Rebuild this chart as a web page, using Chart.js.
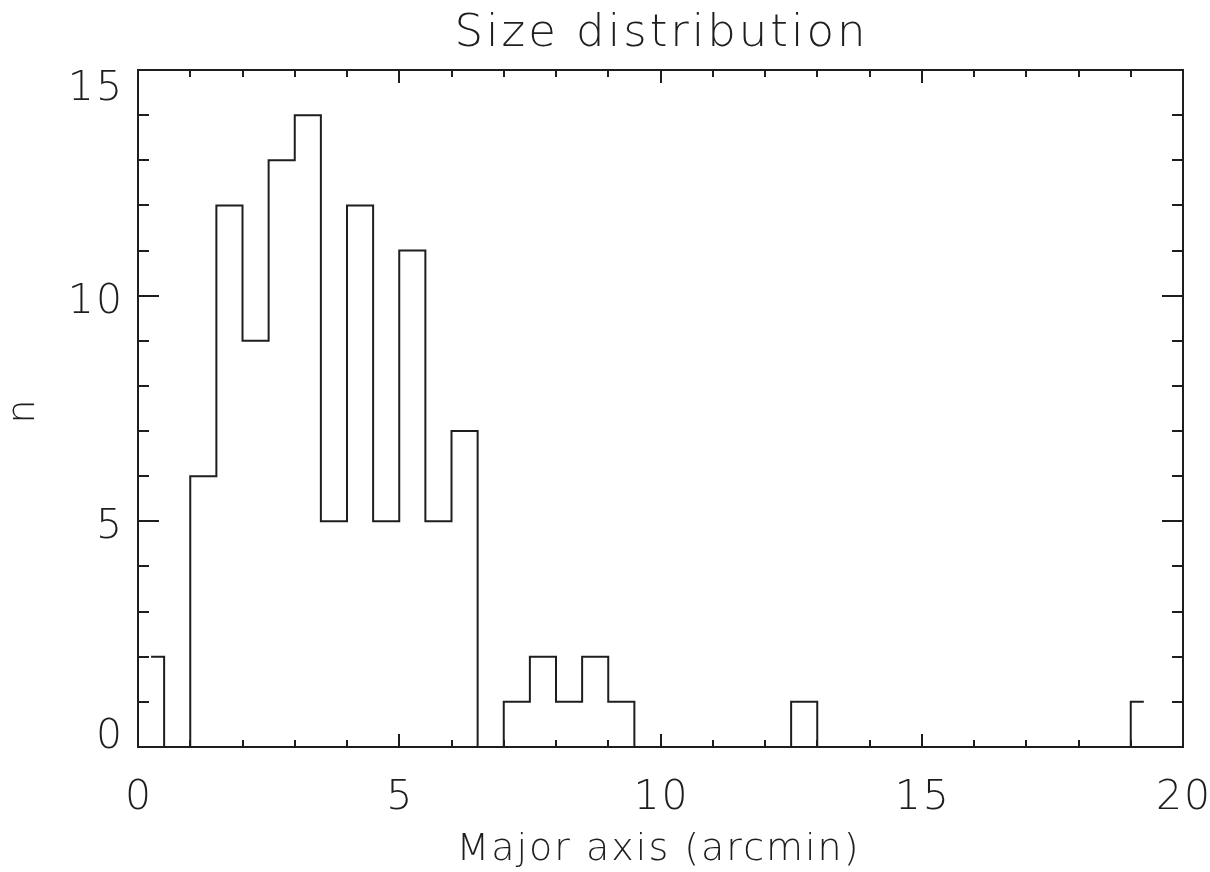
<!DOCTYPE html>
<html>
<head>
<meta charset="utf-8">
<title>Size distribution</title>
<script src="https://cdn.jsdelivr.net/npm/chart.js@4/dist/chart.umd.min.js"></script>
<style>
  html, body { margin: 0; padding: 0; background: #ffffff; }
  #wrap { width: 1210px; height: 872px; }
</style>
</head>
<body>
<div id="wrap"><canvas id="chart" width="1210" height="872"></canvas></div>
<script>
// Histogram of major-axis sizes, 0.5 arcmin bins (bin centres and counts)
const binCenters = [
  0.25, 0.75, 1.25, 1.75, 2.25, 2.75, 3.25, 3.75, 4.25, 4.75,
  5.25, 5.75, 6.25, 6.75, 7.25, 7.75, 8.25, 8.75, 9.25, 9.75,
  10.25, 10.75, 11.25, 11.75, 12.25, 12.75, 13.25, 13.75, 14.25, 14.75,
  15.25, 15.75, 16.25, 16.75, 17.25, 17.75, 18.25, 18.75, 19.25
];
const counts = [
  2, 0, 6, 12, 9, 13, 14, 5, 12, 5,
  11, 5, 7, 0, 1, 2, 1, 2, 1, 0,
  0, 0, 0, 0, 0, 1, 0, 0, 0, 0,
  0, 0, 0, 0, 0, 0, 0, 0, 1
];

// Axis labelling
const xMajorTicks = [0, 5, 10, 15, 20];
const xMinorTicks = [1, 2, 3, 4, 6, 7, 8, 9, 11, 12, 13, 14, 16, 17, 18, 19];
const yMajorTicks = [0, 5, 10, 15];
const yMinorTicks = [1, 2, 3, 4, 6, 7, 8, 9, 11, 12, 13, 14];
const chartTitle = 'Size distribution';
const xAxisTitle = 'Major axis (arcmin)';
const yAxisTitle = 'n';

const INK = '#1e1e1e';
const FONT = '"DejaVu Sans", "Liberation Sans", sans-serif';
const WEIGHT = '200 ';

// Frame, inward ticks on all four sides, tick labels and titles
const frameAndLabels = {
  id: 'frameAndLabels',
  afterDatasetsDraw(chart) {
    const ctx = chart.ctx;
    const a = chart.chartArea;
    const xs = chart.scales.x, ys = chart.scales.y;
    ctx.save();
    ctx.strokeStyle = INK;
    ctx.lineWidth = 2;
    ctx.strokeRect(a.left, a.top, a.right - a.left, a.bottom - a.top);

    const xMajLen = 13, xMinLen = 7, yMajLen = 21, yMinLen = 11;
    ctx.beginPath();
    const xTick = (v, len) => {
      const px = Math.round(xs.getPixelForValue(v));
      ctx.moveTo(px, a.bottom); ctx.lineTo(px, a.bottom - len);
      ctx.moveTo(px, a.top); ctx.lineTo(px, a.top + len);
    };
    const yTick = (v, len) => {
      const py = Math.round(ys.getPixelForValue(v));
      ctx.moveTo(a.left, py); ctx.lineTo(a.left + len, py);
      ctx.moveTo(a.right, py); ctx.lineTo(a.right - len, py);
    };
    xMajorTicks.forEach(v => xTick(v, xMajLen));
    xMinorTicks.forEach(v => xTick(v, xMinLen));
    yMajorTicks.forEach(v => yTick(v, yMajLen));
    yMinorTicks.forEach(v => yTick(v, yMinLen));
    ctx.stroke();

    ctx.fillStyle = INK;
    // x tick labels
    ctx.font = WEIGHT + '41px ' + FONT;
    ctx.textAlign = 'center';
    ctx.textBaseline = 'alphabetic';
    ctx.letterSpacing = '2px';
    xMajorTicks.forEach(v => {
      ctx.fillText(String(v), xs.getPixelForValue(v) + 1, a.bottom + 62);
    });
    // y tick labels, kept inside the vertical extent of the frame
    ctx.textAlign = 'right';
    const digitH = 30;
    yMajorTicks.forEach(v => {
      let cy = ys.getPixelForValue(v) + 2;
      cy = Math.min(cy, a.bottom - digitH / 2 + 1);
      cy = Math.max(cy, a.top + digitH / 2);
      ctx.fillText(String(v), a.left - 14, cy + digitH / 2);
    });

    // chart title
    ctx.textAlign = 'center';
    ctx.font = WEIGHT + '45px ' + FONT;
    ctx.letterSpacing = '3px';
    ctx.fillText(chartTitle, (a.left + a.right) / 2 + 1, 46);

    // x axis title
    ctx.font = WEIGHT + '38px ' + FONT;
    ctx.letterSpacing = '2px';
    ctx.fillText(xAxisTitle, (a.left + a.right) / 2 - 2, 860);

    // y axis title
    ctx.translate(34, (a.top + a.bottom) / 2 + 3);
    ctx.rotate(-Math.PI / 2);
    ctx.letterSpacing = '0px';
    ctx.fillText(yAxisTitle, 0, 0);
    ctx.restore();
  }
};

new Chart(document.getElementById('chart'), {
  type: 'line',
  data: {
    datasets: [{
      label: 'n',
      data: binCenters.map((x, i) => ({ x: x, y: counts[i] })),
      stepped: 'middle',
      borderColor: INK,
      borderWidth: 2,
      pointRadius: 0,
      fill: false
    }]
  },
  options: {
    responsive: false,
    animation: false,
    events: [],
    layout: { padding: { left: 138, right: 27, top: 70, bottom: 125 } },
    scales: {
      x: { type: 'linear', min: 0, max: 20, display: false },
      y: { type: 'linear', min: 0, max: 15, display: false }
    },
    plugins: {
      legend: { display: false },
      tooltip: { enabled: false },
      title: { display: false }
    }
  },
  plugins: [frameAndLabels]
});
</script>
</body>
</html>
